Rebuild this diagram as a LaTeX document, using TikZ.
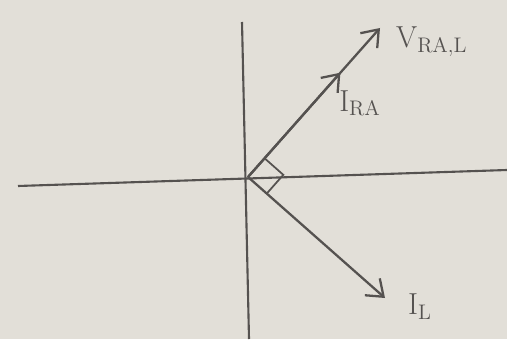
\documentclass[tikz,border=0pt]{standalone}
\usetikzlibrary{arrows.meta,calc}
\definecolor{paper}{RGB}{226,223,216}
\definecolor{pencil}{RGB}{85,82,80}
\tikzset{
  phasor/.style={pencil, line width=1.3pt, -{Straight Barb[length=3mm,width=4.5mm]}},
  axis/.style={pencil, line width=1.2pt},
  lbl/.style={pencil, font=\LARGE}
}
\begin{document}
\begin{tikzpicture}

\fill[paper] (0,0) rectangle (10.14,6.78);
\useasboundingbox (0,0) rectangle (10.14,6.78);

% axes
\coordinate (O) at (4.96,3.24);
\coordinate (top) at (4.84,6.34);
\coordinate (bot) at (4.98,0);
\coordinate (left) at (0.36,3.06);
\coordinate (right) at (10.14,3.38);
\draw[axis] (bot) -- (top);
\draw[axis] (left) -- (right);

% phasors
\coordinate (V) at (7.60,6.22);
\coordinate (IRA) at ($(O)!0.7!(V)$);
\coordinate (IL) at (7.70,0.82);
\draw[phasor] (O) -- (V);
\draw[phasor] (O) -- (IRA);
\draw[phasor] (O) -- (IL);

% right angle
\coordinate (a) at ($(O)!0.5cm!(V)$);
\coordinate (b) at ($(O)!0.5cm!(IL)$);
\draw[pencil, line width=1pt] (a) -- ($(a)+(b)-(O)$) -- (b);

\node[lbl, anchor=west] (labV) at (7.80,5.95) {$\mathrm{V}_{\mathrm{RA},\mathrm{L}}$};
\node[lbl] (labIRA) at (7.20,4.72) {$\mathrm{I}_{\mathrm{RA}}$};
\node[lbl] (labIL) at (8.40,0.65) {$\mathrm{I}_{\mathrm{L}}$};

\end{tikzpicture}
\end{document}
